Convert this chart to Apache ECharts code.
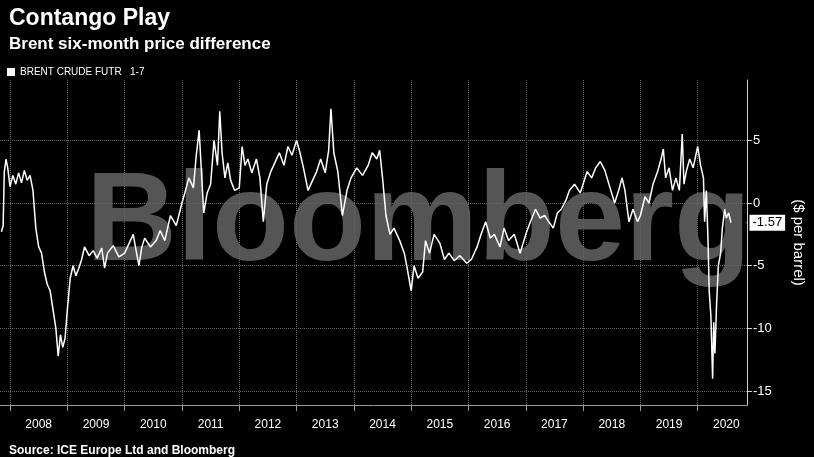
<!DOCTYPE html>
<html>
<head>
<meta charset="utf-8">
<script src="https://cdn.jsdelivr.net/npm/echarts@6/dist/echarts.min.js"></script>
<style>
html, body { margin: 0; padding: 0; background: #000; }
#chart { width: 814px; height: 457px; }
</style>
</head>
<body>
<div id="chart"></div>
<script>
// time as fractional year, value in $ per barrel
var years = [
  2007.85, 2007.88, 2007.9, 2007.93, 2007.96, 2008.0, 2008.05, 2008.1, 2008.15, 2008.2, 2008.25, 2008.3, 2008.35, 2008.4,
  2008.45, 2008.5, 2008.55, 2008.6, 2008.65, 2008.7, 2008.75, 2008.8, 2008.84, 2008.88, 2008.92, 2008.96, 2009.0,
  2009.05, 2009.1, 2009.15, 2009.2, 2009.25, 2009.3, 2009.38, 2009.45, 2009.52, 2009.6, 2009.65, 2009.7, 2009.8,
  2009.9, 2010.0, 2010.08, 2010.15, 2010.2, 2010.25, 2010.3, 2010.35, 2010.45, 2010.55, 2010.62, 2010.7, 2010.8,
  2010.9, 2011.0, 2011.05, 2011.12, 2011.2, 2011.25, 2011.3, 2011.34, 2011.38, 2011.44, 2011.5, 2011.56, 2011.62,
  2011.66, 2011.7, 2011.75, 2011.8, 2011.85, 2011.92, 2012.0, 2012.05, 2012.1, 2012.15, 2012.22, 2012.3, 2012.36,
  2012.42, 2012.48, 2012.55, 2012.62, 2012.7, 2012.78, 2012.85, 2012.92, 2013.0, 2013.06, 2013.12, 2013.2, 2013.28,
  2013.35, 2013.42, 2013.5, 2013.56, 2013.6, 2013.65, 2013.72, 2013.8, 2013.88, 2013.95, 2014.05, 2014.15, 2014.25,
  2014.32, 2014.4, 2014.45, 2014.5, 2014.56, 2014.63, 2014.7, 2014.8, 2014.88, 2014.93, 2015.0, 2015.05, 2015.12,
  2015.2, 2015.25, 2015.32, 2015.4, 2015.5, 2015.58, 2015.66, 2015.75, 2015.85, 2015.97, 2016.05, 2016.15, 2016.22,
  2016.3, 2016.38, 2016.45, 2016.55, 2016.62, 2016.7, 2016.8, 2016.9, 2017.0, 2017.08, 2017.17, 2017.25, 2017.33,
  2017.4, 2017.48, 2017.55, 2017.62, 2017.7, 2017.76, 2017.85, 2017.95, 2018.07, 2018.15, 2018.22, 2018.3, 2018.38,
  2018.45, 2018.55, 2018.62, 2018.68, 2018.73, 2018.8, 2018.87, 2018.95, 2019.0, 2019.08, 2019.15, 2019.22, 2019.3,
  2019.36, 2019.4, 2019.44, 2019.5, 2019.56, 2019.62, 2019.68, 2019.73, 2019.76, 2019.8, 2019.86, 2019.92, 2020.0,
  2020.05, 2020.1, 2020.12, 2020.15, 2020.18, 2020.2, 2020.23, 2020.26, 2020.28, 2020.3, 2020.33, 2020.36, 2020.4,
  2020.43, 2020.47, 2020.5, 2020.54, 2020.58
];
var spread = [
  -2.3, -1.8, 2.5, 3.5, 2.8, 1.3, 2.2, 1.5, 2.4, 1.6, 2.6, 1.8, 2.2, 1.0,
  -2.0, -3.5, -4.0, -5.5, -6.5, -7.0, -8.5, -10.0, -12.2, -10.5, -11.5, -10.8, -8.5,
  -6.0, -5.0, -5.8, -5.2, -4.5, -3.5, -4.2, -3.8, -4.4, -3.6, -5.2, -4.0, -3.4,
  -4.3, -4.0, -3.2, -2.5, -3.8, -5.0, -3.5, -2.8, -3.5, -3.0, -2.2, -3.0, -1.0,
  -1.8, 0.0, 0.8, 2.0, 1.2, 3.8, 5.8, 2.5, -0.8, 0.8, 1.5, 5.0, 3.0,
  7.3, 4.0, 2.0, 3.2, 1.8, 1.0, 1.2, 4.5, 3.0, 3.5, 2.4, 3.5, 2.0,
  -1.5, 1.5, 2.5, 3.2, 4.0, 3.0, 4.5, 3.8, 5.0, 4.0, 2.8, 1.0, 1.8,
  2.5, 3.5, 2.4, 4.2, 7.5, 4.0, 2.5, -1.0, 1.0, 2.0, 2.8, 2.2, 3.0,
  4.0, 3.5, 4.2, 2.0, -1.0, -2.5, -2.0, -3.0, -4.0, -5.2, -7.0, -5.0, -6.0,
  -5.5, -3.0, -4.0, -2.5, -3.2, -4.5, -4.0, -4.6, -4.2, -4.8, -4.5, -3.5, -2.5,
  -1.5, -2.8, -2.5, -3.5, -2.0, -3.0, -2.5, -4.0, -2.5, -1.5, -0.5, -1.2, -1.0,
  -1.5, -2.0, -0.8, -0.5, 0.2, 1.0, 1.5, 0.8, 2.5, 2.0, 2.8, 3.3, 2.6,
  1.5, 0.0, 1.0, 2.0, 1.0, -1.5, -0.5, -1.5, -1.0, 0.5, 0.0, 1.5, 2.5,
  3.5, 4.3, 2.0, 2.8, 1.0, 2.0, 1.0, 5.5, 1.5, 2.5, 3.5, 2.8, 4.5,
  3.0, 2.0, -1.5, 1.0, -3.0, -7.0, -9.0, -14.0, -9.5, -12.0, -8.0, -5.0, -4.0,
  -2.0, -0.5, -1.2, -0.8, -1.57
];
var yLabels = [5, 0, -5, -10, -15];
var yearLabels = [2008, 2009, 2010, 2011, 2012, 2013, 2014, 2015, 2016, 2017, 2018, 2019, 2020];

var seriesData = [];
var n = Math.min(years.length, spread.length);
for (var i = 0; i < n; i++) {
  seriesData.push([years[i], spread[i]]);
}
var yearMids = yearLabels.map(function (y) { return y + 0.5; });
var last = seriesData[seriesData.length - 1];
var xMin = 2007.825, xMax = 2020.86;

var chart = echarts.init(document.getElementById('chart'));
chart.setOption({
  backgroundColor: '#000',
  animation: false,
  textStyle: { fontFamily: 'Liberation Sans, Arial, sans-serif' },
  title: [
    { text: 'Contango Play', left: 4, top: 2, textStyle: { color: '#fff', fontSize: 23, fontWeight: 'bold' } },
    { text: 'Brent six-month price difference', left: 4, top: 31, textStyle: { color: '#fff', fontSize: 17, fontWeight: 'bold' } },
    { text: 'Source: ICE Europe Ltd and Bloomberg', left: 4, top: 440, textStyle: { color: '#fff', fontSize: 12, fontWeight: 'bold' } }
  ],
  legend: {
    left: 2, top: 62, itemWidth: 8, itemHeight: 8, icon: 'rect', itemGap: 4,
    textStyle: { color: '#fff', fontSize: 10 },
    data: ['BRENT CRUDE FUTR   1-7']
  },
  graphic: [{
    type: 'text', left: 86, top: 162, z: -1, silent: true,
    style: { text: 'Bloomberg', fill: '#555', font: 'bold 126px "Liberation Sans", Arial, sans-serif' }
  }],
  grid: { left: 0, right: 67, top: 80, bottom: 52 },
  xAxis: {
    type: 'value', min: xMin, max: xMax,
    axisLine: { onZero: false, lineStyle: { color: '#999' } },
    axisTick: { show: true, customValues: yearLabels, length: 6, lineStyle: { color: '#999' } },
    axisLabel: {
      customValues: yearMids, color: '#fff', fontSize: 12, margin: 14,
      formatter: function (v) { return Math.floor(v); }
    },
    splitLine: { show: true, lineStyle: { color: '#666', type: 'dotted' } }
  },
  yAxis: {
    type: 'value', position: 'right', min: -16.1, max: 9.8,
    name: '($ per barrel)', nameLocation: 'middle', nameGap: 44, nameRotate: -90,
    nameTextStyle: { color: '#fff', fontSize: 15 },
    axisLine: { show: true, lineStyle: { color: '#ccc' } },
    axisTick: { show: true, customValues: yLabels, length: 5, lineStyle: { color: '#ccc' } },
    axisLabel: { customValues: yLabels, color: '#fff', fontSize: 13, margin: 6 },
    splitLine: { show: true, lineStyle: { color: '#666', type: 'dotted' } }
  },
  series: [{
    name: 'BRENT CRUDE FUTR   1-7',
    type: 'line',
    data: seriesData,
    showSymbol: false,
    itemStyle: { color: '#fff' },
    lineStyle: { color: '#fff', width: 1.5 },
    markPoint: {
      symbol: 'rect', symbolSize: [1, 1],
      data: [{ coord: [xMax, last[1]], value: last[1] }],
      label: {
        show: true, position: 'right', distance: 2,
        formatter: function () { return last[1].toFixed(2); },
        color: '#000', backgroundColor: '#fff', fontSize: 13, padding: [2, 3, 1, 3]
      }
    }
  }]
});
</script>
</body>
</html>
